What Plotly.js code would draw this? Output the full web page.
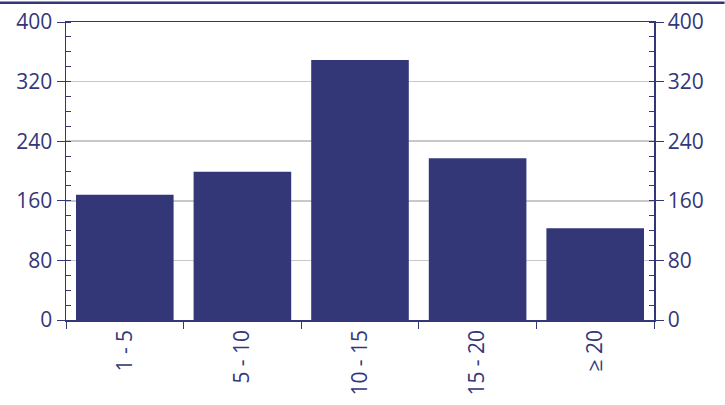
<!DOCTYPE html>
<html>
<head>
<meta charset="utf-8">
<script src="https://cdn.plot.ly/plotly-3.0.1.min.js"></script>
<style>html,body{margin:0;padding:0;background:#fff;}</style>
</head>
<body>
<div id="chart" style="width:725px;height:405px;"></div>
<script>
var categories = ['1 - 5', '5 - 10', '10 - 15', '15 - 20', '≥ 20'];
var values = [168, 199, 349, 217, 123];
var yTicks = [0, 80, 160, 240, 320, 400];

var navy = '#333778';

var data = [
  {
    x: categories,
    y: values,
    type: 'bar',
    marker: { color: navy },
    hoverinfo: 'x+y'
  },
  {
    x: categories,
    y: values,
    type: 'bar',
    yaxis: 'y2',
    marker: { color: 'rgba(0,0,0,0)' },
    hoverinfo: 'skip',
    showlegend: false
  }
];

var yCommon = {
  range: [0, 400],
  tickvals: yTicks,
  ticks: 'outside',
  ticklen: 8,
  tickcolor: navy,
  showline: true,
  linecolor: navy,
  linewidth: 1.5,
  zeroline: false,
  minor: { dtick: 20, ticks: 'inside', ticklen: 5, tickcolor: navy, showgrid: false },
  tickfont: { family: 'Open Sans, sans-serif', size: 21, color: navy }
};

var layout = {
  width: 725,
  height: 405,
  margin: { l: 66, r: 71, t: 22, b: 85 },
  paper_bgcolor: '#fff',
  plot_bgcolor: '#fff',
  showlegend: false,
  bargap: 0.17,
  barmode: 'overlay',
  xaxis: {
    type: 'category',
    tickson: 'boundaries',
    ticks: 'outside',
    ticklen: 7,
    tickcolor: navy,
    tickangle: -90,
    showline: true,
    linecolor: navy,
    linewidth: 1.5,
    mirror: true,
    showgrid: false,
    tickfont: { family: 'Open Sans, sans-serif', size: 21, color: navy }
  },
  yaxis: Object.assign({}, yCommon, {
    showgrid: true,
    gridcolor: '#c8c8c8',
    gridwidth: 1.5
  }),
  yaxis2: Object.assign({}, yCommon, {
    overlaying: 'y',
    side: 'right',
    showgrid: false
  }),
  shapes: [
    { type: 'line', xref: 'paper', yref: 'paper', x0: -0.12, x1: 1.12, y0: 1.065, y1: 1.065,
      line: { color: navy, width: 2.5 } }
  ]
};

Plotly.newPlot('chart', data, layout, { displayModeBar: false, staticPlot: true });
</script>
</body>
</html>
